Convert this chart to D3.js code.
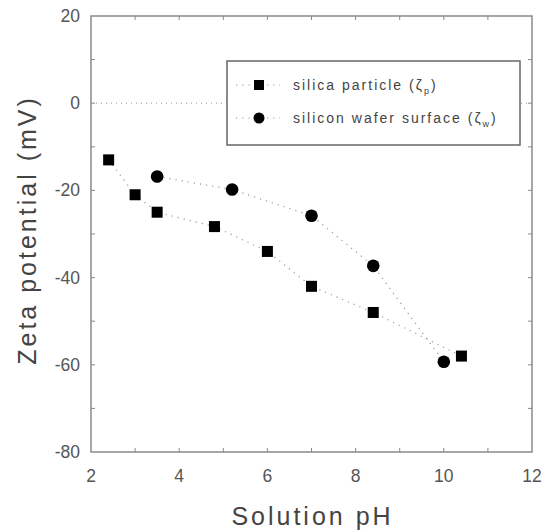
<!DOCTYPE html>
<html>
<head>
<meta charset="utf-8">
<script src="https://cdn.jsdelivr.net/npm/d3@7"></script>
<style>
  body { margin: 0; background: #fff; }
  text { font-family: Arial, "Liberation Sans", sans-serif; }
</style>
</head>
<body>
<div id="chart"></div>
<script>
// data
var particlePH = [2.4, 3.0, 3.5, 4.8, 6.0, 7.0, 8.4, 10.4];
var particleZeta = [-13, -21, -25, -28.3, -34, -42, -48, -58];
var waferPH = [3.5, 5.2, 7.0, 8.4, 10.0];
var waferZeta = [-16.8, -19.8, -25.8, -37.3, -59.3];
var xTicks = [2, 4, 6, 8, 10, 12];
var yTicks = [20, 0, -20, -40, -60, -80];

var width = 553, height = 532;
var margin = {top: 16, right: 21, bottom: 80, left: 91};

var svg = d3.select('#chart').append('svg')
  .attr('width', width)
  .attr('height', height);

var x = d3.scaleLinear().domain([2, 12]).range([margin.left, width - margin.right]);
var y = d3.scaleLinear().domain([-80, 20]).range([height - margin.bottom, margin.top]);

var axisCol = '#8a8a8a';
var tickLen = 4;

// zero line
svg.append('line')
  .attr('x1', x(2)).attr('x2', x(12))
  .attr('y1', y(0)).attr('y2', y(0))
  .attr('stroke', '#999')
  .attr('stroke-width', 1)
  .attr('stroke-dasharray', '1,4');

// frame
svg.append('rect')
  .attr('x', x(2)).attr('y', y(20))
  .attr('width', x(12) - x(2)).attr('height', y(-80) - y(20))
  .attr('fill', 'none')
  .attr('stroke', axisCol)
  .attr('stroke-width', 1.5);

// inward ticks on all sides
var xMinor = d3.range(3, 12, 1);
var yMinor = d3.range(-70, 20, 10);
xMinor.forEach(function(v) {
  svg.append('line').attr('x1', x(v)).attr('x2', x(v))
    .attr('y1', y(-80)).attr('y2', y(-80) - tickLen)
    .attr('stroke', axisCol);
  svg.append('line').attr('x1', x(v)).attr('x2', x(v))
    .attr('y1', y(20)).attr('y2', y(20) + tickLen)
    .attr('stroke', axisCol);
});
yMinor.forEach(function(v) {
  svg.append('line').attr('x1', x(2)).attr('x2', x(2) + tickLen)
    .attr('y1', y(v)).attr('y2', y(v))
    .attr('stroke', axisCol);
  svg.append('line').attr('x1', x(12)).attr('x2', x(12) - tickLen)
    .attr('y1', y(v)).attr('y2', y(v))
    .attr('stroke', axisCol);
});

// tick labels
svg.selectAll('.xlab').data(xTicks).enter().append('text')
  .attr('x', function(d) { return x(d); })
  .attr('y', y(-80) + 30)
  .attr('text-anchor', 'middle')
  .attr('font-size', 17.5)
  .attr('fill', '#555')
  .text(function(d) { return d; });

svg.selectAll('.ylab').data(yTicks).enter().append('text')
  .attr('x', x(2) - 11)
  .attr('y', function(d) { return y(d) + 6; })
  .attr('text-anchor', 'end')
  .attr('font-size', 17.5)
  .attr('fill', '#555')
  .text(function(d) { return d; });

// axis titles
svg.append('text')
  .attr('x', x(7) + 1)
  .attr('y', 525)
  .attr('text-anchor', 'middle')
  .attr('font-size', 25)
  .attr('letter-spacing', 3)
  .attr('fill', '#444')
  .text('Solution pH');

svg.append('text')
  .attr('transform', 'translate(36,230) rotate(-90)')
  .attr('text-anchor', 'middle')
  .attr('font-size', 25)
  .attr('letter-spacing', 3)
  .attr('fill', '#444')
  .text('Zeta potential (mV)');

// series lines
var line = d3.line()
  .x(function(d) { return x(d[0]); })
  .y(function(d) { return y(d[1]); });

var particle = d3.zip(particlePH, particleZeta);
var wafer = d3.zip(waferPH, waferZeta);

[particle, wafer].forEach(function(s) {
  svg.append('path')
    .datum(s)
    .attr('d', line)
    .attr('fill', 'none')
    .attr('stroke', '#999')
    .attr('stroke-width', 1.2)
    .attr('stroke-dasharray', '1.2,5');
});

// markers
var sq = 11;
svg.selectAll('.sq').data(particle).enter().append('rect')
  .attr('x', function(d) { return x(d[0]) - sq / 2; })
  .attr('y', function(d) { return y(d[1]) - sq / 2; })
  .attr('width', sq).attr('height', sq)
  .attr('fill', '#000');

svg.selectAll('.ci').data(wafer).enter().append('circle')
  .attr('cx', function(d) { return x(d[0]); })
  .attr('cy', function(d) { return y(d[1]); })
  .attr('r', 6.3)
  .attr('fill', '#000');

// legend
var lg = svg.append('g');
lg.append('rect')
  .attr('x', 227).attr('y', 61)
  .attr('width', 293).attr('height', 84)
  .attr('fill', '#fff')
  .attr('stroke', '#666')
  .attr('stroke-width', 1.5);

var legendItems = [
  {label: 'silica particle (\u03b6', sub: 'p', y: 85, shape: 'square'},
  {label: 'silicon wafer surface (\u03b6', sub: 'w', y: 118, shape: 'circle'}
];

legendItems.forEach(function(d) {
  lg.append('line')
    .attr('x1', 236).attr('x2', 280)
    .attr('y1', d.y).attr('y2', d.y)
    .attr('stroke', '#999')
    .attr('stroke-width', 1.2)
    .attr('stroke-dasharray', '1.2,5');
  if (d.shape === 'square') {
    lg.append('rect').attr('x', 259 - 5).attr('y', d.y - 5)
      .attr('width', 10).attr('height', 10).attr('fill', '#000');
  } else {
    lg.append('circle').attr('cx', 259).attr('cy', d.y)
      .attr('r', 5.5).attr('fill', '#000');
  }
  var t = lg.append('text')
    .attr('x', 293).attr('y', d.y + 5)
    .attr('font-size', 14)
    .attr('letter-spacing', 2)
    .attr('fill', '#444');
  t.append('tspan').text(d.label);
  t.append('tspan').attr('dy', 4).attr('font-size', 9).text(d.sub);
  t.append('tspan').attr('dy', -4).text(')');
});
</script>
</body>
</html>
